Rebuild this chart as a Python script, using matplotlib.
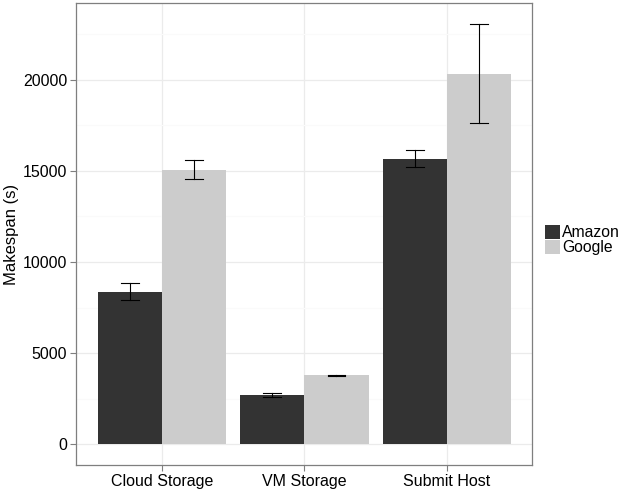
import numpy as np
import matplotlib.pyplot as plt
from matplotlib.patches import Patch

plt.rcParams['font.family'] = ['Liberation Sans', 'DejaVu Sans']

categories = ["Cloud Storage", "VM Storage", "Submit Host"]
providers = ["Amazon", "Google"]
amazon = [8380, 2720, 15680]
amazon_lo = [7910, 2615, 15240]
amazon_hi = [8860, 2830, 16140]
google = [15070, 3780, 20340]
google_lo = [14530, 3740, 17610]
google_hi = [15620, 3820, 23080]
colors = ["#333333", "#CCCCCC"]

fig = plt.figure(figsize=(6.23, 4.90), dpi=100)
ax = fig.add_axes([0.1225, 0.0505, 0.7322, 0.944])

x = np.arange(1, len(categories) + 1)
w = 0.45
series = [(amazon, amazon_lo, amazon_hi), (google, google_lo, google_hi)]
for i, (vals, lo, hi) in enumerate(series):
    xs = x + (i - 0.5) * w
    ax.bar(xs, vals, width=w, color=colors[i], zorder=2)
    for xx, l, h in zip(xs, lo, hi):
        ax.plot([xx, xx], [l, h], color="black", lw=0.8, zorder=3)
        ax.plot([xx - 0.0625, xx + 0.0625], [l, l], color="black", lw=0.8, zorder=3)
        ax.plot([xx - 0.0625, xx + 0.0625], [h, h], color="black", lw=0.8, zorder=3)

top = max(google_hi + amazon_hi)
ax.set_ylim(-0.05 * top, 1.05 * top)
ax.set_xlim(0.4, len(categories) + 0.6)
ax.set_xticks(x)
ax.set_xticklabels(categories)
ax.set_yticks([0, 5000, 10000, 15000, 20000])
ax.set_yticks([2500, 7500, 12500, 17500, 22500], minor=True)
ax.grid(True, which="major", color="#EBEBEB", lw=0.9, zorder=0)
ax.grid(True, which="minor", axis="y", color="#FAFAFA", lw=0.9, zorder=0)
ax.set_axisbelow(True)
for s in ax.spines.values():
    s.set_color("#7F7F7F")
    s.set_linewidth(0.9)
ax.tick_params(which="major", colors="#7F7F7F", labelcolor="black", labelsize=11.5, length=4, pad=2.5)
ax.tick_params(which="minor", length=0)
ax.set_ylabel("Makespan (s)", fontsize=12, labelpad=3)

handles = [Patch(facecolor=c, edgecolor="none") for c in colors]
fig.legend(handles, providers, loc="center left", bbox_to_anchor=(0.874, 0.51),
           frameon=False, fontsize=11.3, handlelength=1.0, handleheight=1.0,
           handletextpad=0.1, labelspacing=0.0, borderpad=0, borderaxespad=0)

fig.savefig("out.png", dpi=100)
